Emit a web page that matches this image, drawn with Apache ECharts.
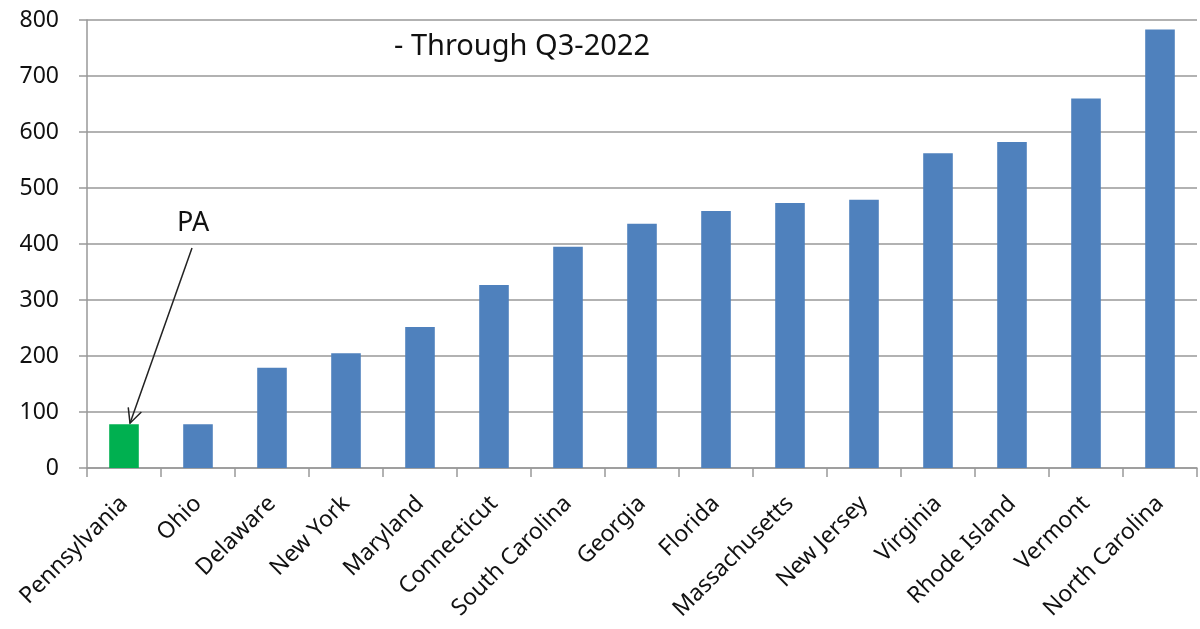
<!DOCTYPE html>
<html>
<head>
<meta charset="utf-8">
<script src="https://cdn.jsdelivr.net/npm/echarts@6/dist/echarts.min.js"></script>
<style>html,body{margin:0;padding:0;background:#fff}#c{width:1200px;height:629px}</style>
</head>
<body>
<div id="c"></div>
<script>
const categories = ['Pennsylvania','Ohio','Delaware','New York','Maryland','Connecticut','South Carolina','Georgia','Florida','Massachusetts','New Jersey','Virginia','Rhode Island','Vermont','North Carolina'];
const values = [78, 78, 179, 205, 252, 327, 395, 436, 459, 473, 479, 562, 582, 660, 783];
const highlighted = ['Pennsylvania'];
const titleText = '- Through Q3-2022';
const annotationText = 'PA';
const arrowFrom = ['Ohio', 393];
const arrowTo = ['Pennsylvania', 80];

const FONT = 'Noto Sans';
const chart = echarts.init(document.getElementById('c'));
chart.setOption({
  animation: false,
  grid: { left: 87, right: 3, top: 20, bottom: 161 },
  xAxis: {
    type: 'category',
    data: categories,
    axisLine: { lineStyle: { color: '#999', width: 1.5 } },
    axisTick: { show: true, length: 9, lineStyle: { color: '#999', width: 1.5 } },
    axisLabel: { rotate: 45, interval: 0, fontFamily: FONT, fontSize: 23, color: '#111', margin: 32 }
  },
  yAxis: {
    type: 'value', min: 0, max: 800, interval: 100,
    axisLine: { show: true, lineStyle: { color: '#999', width: 1.5 } },
    axisTick: { show: true, length: 8, lineStyle: { color: '#999', width: 1.5 } },
    splitLine: { lineStyle: { color: '#999', width: 1.5 } },
    axisLabel: { fontFamily: FONT, fontSize: 23, color: '#111', margin: 28 }
  },
  series: [{
    type: 'bar',
    barWidth: '40%',
    data: values.map((v, i) => ({
      value: v,
      itemStyle: { color: highlighted.includes(categories[i]) ? '#00B050' : '#4F81BD' }
    }))
  }]
});

const p1 = chart.convertToPixel({ gridIndex: 0 }, arrowFrom);
const p2 = chart.convertToPixel({ gridIndex: 0 }, arrowTo);
const sx = p1[0] - 6, sy = p1[1];
const ex = p2[0] + 6, ey = p2[1];
const ang = Math.atan2(ey - sy, ex - sx);
const hl = 16, ha = 0.45;
const h1 = [ex - hl * Math.cos(ang - ha), ey - hl * Math.sin(ang - ha)];
const h2 = [ex - hl * Math.cos(ang + ha), ey - hl * Math.sin(ang + ha)];
chart.setOption({
  graphic: [
    { type: 'line', shape: { x1: sx, y1: sy, x2: ex, y2: ey }, style: { stroke: '#222', lineWidth: 1.5 } },
    { type: 'polyline', shape: { points: [h1, [ex, ey], h2] }, style: { stroke: '#222', lineWidth: 1.5, fill: null } },
    { type: 'text', left: sx - 15, top: sy - 38, style: { text: annotationText, font: '27px "' + FONT + '"', fill: '#111' } },
    { type: 'text', left: 394, top: 32, style: { text: titleText, font: '29px "' + FONT + '"', fill: '#111' } }
  ]
});
</script>
</body>
</html>
